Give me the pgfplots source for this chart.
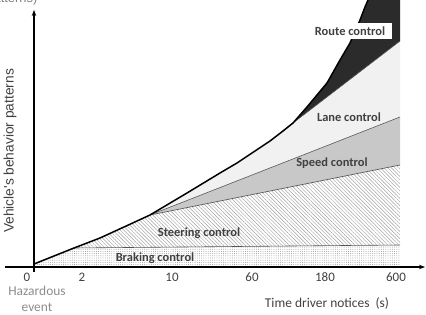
\documentclass[border=0pt]{standalone}
\usepackage{pgfplots}
\pgfplotsset{compat=1.18}
\usepackage{fontspec}
\setmainfont{Carlito}
\newfontfamily\arial{Liberation Sans}
\usetikzlibrary{patterns.meta,arrows.meta}
\definecolor{routec}{HTML}{2B2B2B}
\definecolor{lanec}{HTML}{F1F1F1}
\definecolor{speedc}{HTML}{C8C8C8}
\definecolor{hatchc}{HTML}{A0A0A0}
\definecolor{dotc}{HTML}{909090}
\definecolor{linec}{HTML}{555555}
\definecolor{txt}{HTML}{404040}
\definecolor{hazc}{HTML}{8C8C8C}
\begin{document}
\begin{tikzpicture}
\begin{axis}[width=426bp,height=315bp,scale only axis,
 xmin=-34,xmax=392,ymin=-48,ymax=267, hide axis, clip=false,
 every axis plot/.append style={mark=none}]
% Braking control (dots)
\addplot[fill=white,draw=none] coordinates {(0,0) (0,3) (20,11) (40,19) (366,22) (366,0)} -- cycle;
\addplot[pattern={Dots[distance=2.2pt,radius=0.45pt]},pattern color=dotc,draw=none] coordinates {(0,0) (0,3) (20,11) (40,19) (366,22) (366,0)} -- cycle;
% Steering control (hatch)
\addplot[fill=white,draw=none] coordinates {(40,19) (66,29) (90,40) (116,52) (366,102) (366,22)} -- cycle;
\addplot[pattern={Lines[angle=-45,distance=2.6pt,line width=0.45pt]},pattern color=hatchc,draw=none] coordinates {(40,19) (66,29) (90,40) (116,52) (366,102) (366,22)} -- cycle;
% Speed control
\addplot[fill=speedc,draw=none] coordinates {(116,52) (366,150) (366,102)} -- cycle;
% Lane control
\addplot[fill=lanec,draw=none] coordinates {(116,52) (153,74) (186,94) (203,104) (224,118) (236,126) (249,136) (259,144) (366,226) (366,150)} -- cycle;
% Route control
\addplot[fill=routec,draw=none] coordinates {(259,144) (273,160) (293,184) (306,207) (316,224) (326,247) (331,260) (334,267) (366,267) (366,226)} -- cycle;
% boundary lines
\addplot[linec,line width=0.6pt] coordinates {(40,19) (366,22)};
\addplot[linec,line width=0.6pt] coordinates {(116,52) (366,102)};
\addplot[linec,line width=0.6pt] coordinates {(116,52) (366,150)};
\addplot[linec,line width=0.6pt] coordinates {(259,144) (366,226)};
% main curve
\addplot[black,line width=1.5pt] coordinates {(0,3) (20,11) (40,19) (66,29) (90,40) (116,52) (153,74) (186,94) (203,104) (224,118) (236,126) (249,136) (259,144) (273,160) (293,184) (306,207) (316,224) (326,247) (331,260) (334,267)};
% axes
\addplot[black,line width=1.2pt,-{Stealth[length=6pt,width=4.5pt]}] coordinates {(-29,0) (391,0)};
\addplot[black,line width=1.2pt,-{Stealth[length=6pt,width=4.5pt]}] coordinates {(0,-5) (0,257)};
% labels
\node[fill=white,inner xsep=5pt,inner ysep=4pt,minimum width=84bp,font=\fontsize{12.5}{14}\selectfont\bfseries,text=txt] at (axis cs:316,236) {Route control};
\node[font=\fontsize{12.5}{14}\selectfont\bfseries,text=txt] at (axis cs:315,150) {Lane control};
\node[font=\fontsize{12.5}{14}\selectfont\bfseries,text=txt] at (axis cs:298,104) {Speed control};
\node[font=\fontsize{12.5}{14}\selectfont\bfseries,text=txt] at (axis cs:165,34) {Steering control};
\node[font=\fontsize{12.5}{14}\selectfont\bfseries,text=txt] at (axis cs:121,9) {Braking control};
% tick labels
\foreach \xx/\lab in {-7/0,48/2,138/10,218/60,291/180,362/600}{
  \edef\tmp{\noexpand\node[font=\noexpand\fontsize{13}{15}\noexpand\selectfont,text=txt] at (axis cs:\xx,-10) {\lab};}\tmp
}
\node[font=\fontsize{13.5}{15}\selectfont,text=hazc,align=center] at (axis cs:3,-32) {Hazardous\\[1pt]event};
\node[font=\fontsize{13.5}{15}\selectfont,text=txt] at (axis cs:293,-37) {Time driver notices\ \ (s)};
\node[font=\arial\fontsize{13.8}{15}\selectfont,text=txt,rotate=90] at (axis cs:-24,116) {Vehicle's behavior patterns};
\node[font=\arial\fontsize{13}{15}\selectfont,text=gray,anchor=east] at (axis cs:7,268) {patterns)};
\end{axis}
\pgfresetboundingbox
\path (current axis.south west) rectangle (current axis.north east);
\end{tikzpicture}
\end{document}
